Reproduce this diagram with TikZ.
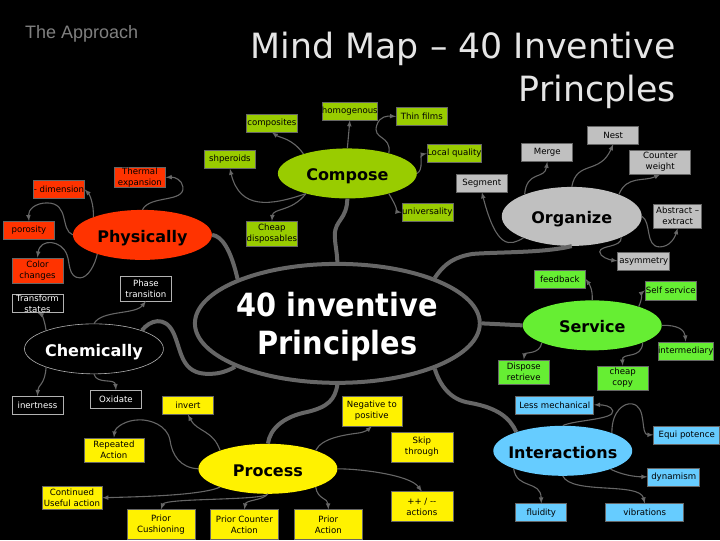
\documentclass[tikz,border=0pt]{standalone}
\usepackage{fontspec}
\setmainfont{DejaVu Sans}
\newfontfamily\headfont{Liberation Sans}
\newfontfamily\centrefont{DejaVu Sans Condensed}
\usetikzlibrary{shapes.geometric}
\tikzset{>=latex}
\definecolor{trunkgray}{HTML}{666666}
\definecolor{limegreen}{HTML}{99CC00}
\definecolor{redorange}{HTML}{FF3300}
\definecolor{lightgray}{HTML}{C0C0C0}
\definecolor{brightgreen}{HTML}{66EE33}
\definecolor{skyblue}{HTML}{66CCFF}
\tikzset{
	box/.style={draw=trunkgray, line width=0.6pt, inner sep=0pt, align=center, minimum width=51pt, minimum height=18pt, text=black, font=\fontsize{8.6}{11}\selectfont},
	tall/.style={minimum height=25pt},
	topic/.style={ellipse, inner sep=-12pt, minimum width=139pt, minimum height=50pt, text height=17pt, text depth=2pt, text=black, font=\fontsize{16}{20}\selectfont\bfseries},
	trunk/.style={draw=trunkgray, line width=4pt},
	branch/.style={draw=trunkgray, line width=1.1pt, ->},
}

\begin{document}
\begin{tikzpicture}[x=1pt,y=-1pt]
	\fill[black] (0,0) rectangle (720,540);
	\node[text=gray, inner sep=0pt, font=\headfont\fontsize{18}{20}\selectfont, anchor=west] (approach) at (25,34) {The Approach};
	\node[text=white!90!black, inner sep=0pt, font=\fontsize{34.8}{43}\selectfont, align=right, anchor=north east] (title) at (676,32) {Mind Map -- 40 Inventive\\Princples};

	% centre
	\node[ellipse, draw=trunkgray, line width=4pt, inner sep=0pt, minimum width=285pt, minimum height=119pt, label={[text=white, font=\centrefont\fontsize{32}{38}\selectfont\bfseries, align=center, yshift=-3pt]center:40 inventive\\Principles}] (centre) at (337.5,323.5) {};

	% Compose
	\node[topic, fill=limegreen] (compose) at (347.5,173.5) {Compose};
	\foreach \name/\x/\y/\txt in {composites/272/123/composites, homogenous/350/111/homogenous, thinfilms/422/116.5/Thin films, localquality/454.5/153.5/Local quality, universality/427.5/212.5/universality, shperoids/230/159.5/shperoids} {
		\node[box, fill=limegreen] (\name) at (\x,\y) {\txt};
	}
	\node[box, tall, fill=limegreen] (cheapdisp) at (272,234) {Cheap\\disposables};

	% Physically
	\node[topic, fill=redorange] (physically) at (142.5,235) {Physically};
	\node[box, fill=redorange] (dimension) at (59,189.5) {- dimension};
	\node[box, fill=redorange] (thermal) at (140,177.5) {Thermal\\expansion};
	\node[box, fill=redorange] (porosity) at (29,230.5) {porosity};
	\node[box, tall, fill=redorange] (color) at (37.5,270.5) {Color\\changes};

	% Chemically
	\node[topic, draw=white!70!black, line width=0.6pt, text=white] (chemically) at (94,349) {Chemically};
	\node[box, text=white, draw=white!70!black] (transform) at (37.5,303.5) {Transform\\states};
	\node[box, tall, text=white, draw=white!70!black] (phase) at (146,288.5) {Phase\\transition};
	\node[box, text=white, draw=white!70!black] (inertness) at (37.5,405.5) {inertness};
	\node[box, text=white, draw=white!70!black] (oxidate) at (116,399.5) {Oxidate};

	% Process
	\node[topic, fill=yellow] (process) at (268,469) {Process};
	\foreach \name/\x/\y/\w/\h/\txt in {invert/188/405.5/51/18/invert, repeated/114/450/60/24/Repeated\\Action, continued/72/498/60/24/Continued\\Useful action, cushioning/161/525/68/30/Prior\\Cushioning, counter/244.5/525/68/30/Prior Counter\\Action, prioraction/328.5/525/68/30/Prior\\Action, negative/372/411/60/30/Negative to\\positive, skip/422/447/62/30/Skip\\through, plusminus/422/507/62/30/{++ / -{}-\\actions}} {
		\node[box, fill=yellow, minimum width=\w pt, minimum height=\h pt] (\name) at (\x,\y) {\txt};
	}

	% Organize
	\node[topic, fill=lightgray, minimum width=140pt, minimum height=59pt] (organize) at (572,216.5) {Organize};
	\foreach \name/\x/\y/\w/\h/\txt in {segment/482/183/51/18/Segment, merge/547.5/152.5/51/18/Merge, nest/613.5/135/51/18/Nest, counterw/660.5/162/61/24/Counter\\weight, abstract/678/216/48/24/Abstract --\\extract, asymmetry/644/261/52/18/asymmetry} {
		\node[box, fill=lightgray, minimum width=\w pt, minimum height=\h pt] (\name) at (\x,\y) {\txt};
	}

	% Service
	\node[topic, fill=brightgreen] (service) at (592.5,325.5) {Service};
	\foreach \name/\x/\y/\h/\txt in {feedback/560/279/18/feedback, selfservice/671/290.5/19/Self service, intermediary/686/351/18/intermediary, dispose/524/372/24/Dispose\\retrieve, cheapcopy/623/378/24/cheap\\copy} {
		\node[box, fill=brightgreen, minimum height=\h pt] (\name) at (\x,\y) {\txt};
	}

	% Interactions
	\node[topic, fill=skyblue] (interactions) at (563,451) {Interactions};
	\foreach \name/\x/\y/\w/\txt in {lessmech/555/405/78/Less mechanical, equi/687/435/66/Equi potence, dynamism/674/477/52/dynamism, fluidity/541.5/513/51/fluidity, vibrations/645/513/78/vibrations} {
		\node[box, fill=skyblue, minimum width=\w pt] (\name) at (\x,\y) {\txt};
	}

	% trunks
	\draw[trunk] (compose.south) .. controls (347,220) and (335,220) .. (335,235) .. controls (335,245) and (337,250) .. (centre.90);
	\draw[trunk] (physically.east) .. controls (222,236) and (231,250) .. (centre.156);
	\draw[trunk] (organize.-90) .. controls (545,253) and (500,252) .. (473,254) .. controls (455,257) and (445,263) .. (centre.25);
	\draw[trunk] (centre.east) -- (service.west);
	\draw[trunk] (interactions.158) .. controls (510,418) and (498,408) .. (470,403) .. controls (450,400) and (440,385) .. (centre.-25);
	\draw[trunk] (process.north) .. controls (270,430) and (282,417) .. (308,412) .. controls (328,407) and (335,400) .. (centre.-90);
	\draw[trunk] (chemically.21) .. controls (150,320) and (165,316) .. (173,332) .. controls (182,350) and (180,375) .. (210,374) .. controls (220,374) and (228,371) .. (centre.203);

	% Compose branches
	\draw[branch] (compose.156) .. controls (292,138) and (280,138) .. (composites.south);
	\draw[branch] (compose.north) -- (homogenous.south);
	\draw[branch] (compose.26) .. controls (392,135) and (372,140) .. (377,125) .. controls (380,116) and (388,116) .. (thinfilms.west);
	\draw[branch] (compose.east) .. controls (424,170) and (420,155) .. (localquality.west);
	\draw[branch] (compose.-26) .. controls (397,207) and (398,212) .. (universality.west);
	\draw[branch] (compose.-154) .. controls (270,206) and (240,210) .. (shperoids.south);
	\draw[branch] (compose.-154) .. controls (292,212) and (273,208) .. (cheapdisp.north);

	% Physically branches
	\draw[branch] (physically.160) .. controls (94,205) and (90,195) .. (dimension.east);
	\draw[branch] (physically.90) .. controls (150,195) and (185,203) .. (183,187) .. controls (182,180) and (175,177) .. (thermal.east);
	\draw[branch] (physically.west) .. controls (60,230) and (70,203) .. (47,203) .. controls (35,203) and (28,210) .. (porosity.north);
	\draw[branch] (physically.203) .. controls (95,265) and (88,278) .. (80,278) .. controls (68,278) and (70,262) .. (67,255) .. controls (62,240) and (40,238) .. (color.north);

	% Chemically branches
	\draw[branch] (chemically.159) .. controls (45,322) and (42,315) .. (transform.south);
	\draw[branch] (chemically.north) .. controls (102,310) and (135,315) .. (phase.south);
	\draw[branch] (chemically.201) .. controls (45,385) and (38,385) .. (inertness.north);
	\draw[branch] (chemically.south) .. controls (97,385) and (115,378) .. (oxidate.north);

	% Process branches
	\draw[branch] (process.159) .. controls (213,430) and (197,432) .. (invert.south);
	\draw[branch] (process.west) .. controls (180,468) and (172,455) .. (170,440) .. controls (167,425) and (150,420) .. (140,420) .. controls (125,420) and (115,428) .. (repeated.north);
	\draw[branch] (process.201) .. controls (200,496) and (135,497) .. (continued.east);
	\draw[branch] (process.south) .. controls (262,501) and (165,498) .. (cushioning.north);
	\draw[branch] (process.south) .. controls (262,501) and (246,500) .. (counter.north);
	\draw[branch] (process.-21) .. controls (318,500) and (328,498) .. (prioraction.north);
	\draw[branch] (process.21) .. controls (322,438) and (345,435) .. (360,433) .. controls (365,432) and (368,430) .. (negative.south);
	\draw[branch] (process.east) .. controls (360,469) and (410,475) .. (plusminus.north);

	% Organize branches
	\draw[branch] (organize.204) .. controls (510,246) and (497,250) .. (segment.south);
	\draw[branch] (organize.155) .. controls (527,170) and (545,180) .. (merge.south);
	\draw[branch] (organize.90) .. controls (577,160) and (600,175) .. (nest.south);
	\draw[branch] (organize.25) .. controls (627,175) and (645,182) .. (counterw.south);
	\draw[branch] (organize.east) .. controls (652,222) and (645,247) .. (660,247) .. controls (670,247) and (675,238) .. (abstract.south);
	\draw[branch] (organize.-23) .. controls (622,248) and (600,245) .. (600,252) .. controls (600,257) and (610,260) .. (asymmetry.west);

	% Service branches
	\draw[branch] (service.90) .. controls (593,290) and (590,285) .. (feedback.east);
	\draw[branch] (service.22) .. controls (643,298) and (642,293) .. (selfservice.west);
	\draw[branch] (service.east) .. controls (678,325) and (685,330) .. (intermediary.north);
	\draw[branch] (service.199) .. controls (540,355) and (525,352) .. (dispose.north);
	\draw[branch] (service.-19) .. controls (642,360) and (622,352) .. (cheapcopy.north);

	% Interactions branches
	\draw[branch] (interactions.90) .. controls (575,420) and (615,420) .. (613,411) .. controls (612,406) and (603,405) .. (lessmech.east);
	\draw[branch] (interactions.20) .. controls (612,410) and (625,403) .. (632,404) .. controls (648,406) and (640,435) .. (equi.west);
	\draw[branch] (interactions.-21) .. controls (622,475) and (635,477) .. (dynamism.west);
	\draw[branch] (interactions.200) .. controls (517,490) and (541,480) .. (fluidity.north);
	\draw[branch] (interactions.south) .. controls (572,495) and (640,482) .. (vibrations.north);
\end{tikzpicture}
\end{document}
